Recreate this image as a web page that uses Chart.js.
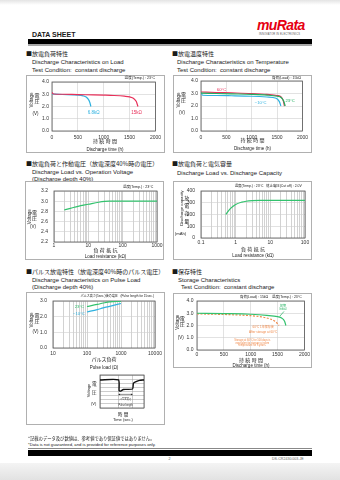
<!DOCTYPE html>
<html lang="ja">
<head>
<meta charset="utf-8">
<title>CR2430 Data Sheet</title>
<script src="https://cdn.jsdelivr.net/npm/chart.js@4.4.1/dist/chart.umd.min.js"></script>
<style>
  html, body { margin: 0; padding: 0; }
  body { width: 340px; height: 480px; position: relative; overflow: hidden; background: #fff;
         font-family: "Liberation Sans", Arial, "Noto Sans CJK JP", sans-serif; color: #1a1a1a; }
  .txt { position: absolute; white-space: nowrap; line-height: 1; }
  .sec { font-size: 6px; font-family: "Noto Sans CJK JP", sans-serif; }
  .sub { font-size: 6px; }
  .bar { position: absolute; }
  canvas { position: absolute; }
</style>
</head>
<body>
<div class="bar" style="left:0;top:0;width:340px;height:5px;background:linear-gradient(#e4e4e4,#fff)"></div>
<div class="txt" style="left:32px;top:30.5px;font-size:7px;font-weight:bold">DATA SHEET</div>
<div class="txt" style="left:257px;top:18px;font-size:14px;font-weight:bold;font-style:italic;color:#e60012;letter-spacing:-0.6px">muRata</div>
<div class="txt" style="left:259px;top:34px;font-size:2.6px;color:#555;letter-spacing:0.15px">INNOVATOR IN ELECTRONICS</div>
<div class="bar" style="left:28px;top:39px;width:284px;height:5px;background:#000"></div>
<div class="bar" style="left:28px;top:44px;width:284px;height:2px;background:#a8a8a8"></div>

<div class="txt sec" style="left:26px;top:51px">■放電負荷特性</div>
<div class="txt sub" style="left:32px;top:59px">Discharge Characteristics on Load</div>
<div class="txt sub" style="left:32px;top:67px">Test Condition:&nbsp; constant discharge</div>
<div class="txt sec" style="left:172px;top:51px">■放電温度特性</div>
<div class="txt sub" style="left:177px;top:59px">Discharge Characteristics on Temperature</div>
<div class="txt sub" style="left:177px;top:67px">Test Condition:&nbsp; constant discharge</div>

<div class="txt sec" style="left:26px;top:161px">■放電負荷と作動電圧（放電深度40%時の電圧）</div>
<div class="txt sub" style="left:32px;top:169px">Discharge Load vs. Operation Voltage</div>
<div class="txt sub" style="left:32px;top:175.5px">(Discharge depth 40%)</div>
<div class="txt sec" style="left:172px;top:161px">■放電負荷と電気容量</div>
<div class="txt sub" style="left:177px;top:170px">Discharge Load vs. Discharge Capacity</div>

<div class="txt sec" style="left:26px;top:269px">■パルス放電特性（放電深度40%時のパルス電圧）</div>
<div class="txt sub" style="left:32px;top:277px">Discharge Characteristics on Pulse Load</div>
<div class="txt sub" style="left:32px;top:283.5px">(Discharge depth 40%)</div>
<div class="txt sec" style="left:172px;top:269px">■保存特性</div>
<div class="txt sub" style="left:178px;top:277px">Storage Characteristics</div>
<div class="txt sub" style="left:181px;top:283.5px">Test Condition:&nbsp; constant discharge</div>

<canvas id="loadChart" width="139" height="78" style="left:26px;top:75px"></canvas>
<canvas id="tempChart" width="139" height="78" style="left:173px;top:75px"></canvas>
<canvas id="opVoltChart" width="139" height="79" style="left:25px;top:181px"></canvas>
<canvas id="capChart" width="139" height="79" style="left:173px;top:181px"></canvas>
<canvas id="pulseChart" width="139" height="133" style="left:26px;top:292px"></canvas>
<canvas id="pulseShape" width="70" height="52" style="left:86px;top:372px"></canvas>
<canvas id="storageChart" width="139" height="75" style="left:173px;top:293px"></canvas>

<div class="txt" style="left:28px;top:436px;font-size:4.3px;font-family:'Noto Sans CJK JP',sans-serif">*記載のデータ及び数値は、参考値であり保証値ではありません。</div>
<div class="txt" style="left:28px;top:442.5px;font-size:4.2px">*Data is not guaranteed, and is provided for reference purposes only.</div>
<div class="bar" style="left:28px;top:447.5px;width:284px;height:0.6px;background:#888"></div>
<div class="bar" style="left:28px;top:450px;width:284px;height:5.5px;background:#000"></div>
<div class="txt" style="left:168.5px;top:457.5px;font-size:3.6px;color:#555">2</div>
<div class="txt" style="left:272px;top:457.5px;font-size:3.6px;color:#666">DS-CR2430.003-JE</div>
<div class="bar" style="left:0;top:463px;width:340px;height:17px;background:linear-gradient(#f4f4f4,#e2e2e2)"></div>

<script>
// --- discharge on load (23°C) ---
const loadHours15k = [0, 30, 200, 500, 800, 1000, 1200, 1400, 1500, 1580, 1630, 1662];
const loadVolts15k = [3.15, 3.02, 3.0, 2.97, 2.95, 2.93, 2.9, 2.84, 2.78, 2.65, 2.4, 2.0];
const loadHours6k8 = [0, 200, 400, 500, 600, 660, 700, 730, 752];
const loadVolts6k8 = [3.02, 2.98, 2.95, 2.93, 2.87, 2.78, 2.6, 2.35, 2.0];

// --- discharge on temperature (15kΩ) ---
const tempHours60 = [0, 300, 600, 1000, 1300, 1500, 1580, 1620, 1645];
const tempVolts60 = [3.12, 3.08, 3.05, 3.0, 2.93, 2.84, 2.72, 2.45, 2.0];
const tempHours23 = [0, 300, 600, 1000, 1300, 1500, 1580, 1630, 1660];
const tempVolts23 = [3.03, 3.0, 2.97, 2.93, 2.87, 2.78, 2.68, 2.4, 2.0];
const tempHoursM10 = [0, 30, 300, 600, 1000, 1300, 1480, 1545, 1575];
const tempVoltsM10 = [3.1, 2.86, 2.84, 2.82, 2.78, 2.72, 2.62, 2.35, 2.0];

// --- load vs operating voltage ---
const opLoadKohm = [2, 3, 5, 10, 20, 40, 100, 1000];
const opVolts = [2.83, 2.86, 2.9, 2.94, 2.98, 3.0, 3.0, 3.0];
const opLoadTicks = [1, 10, 100, 1000];

// --- load vs capacity ---
const capLoadKohm = [0.52, 0.7, 1, 1.5, 2, 3, 5, 10, 100];
const capMah = [200, 250, 285, 305, 313, 318, 320, 320, 320];
const capLoadTicks = [0.1, 1, 10, 100];

// --- pulse load ---
const pulseLoadOhm = [100, 200, 300, 465, 1000];
const pulseVolts23 = [2.65, 2.78, 2.87, 2.95, 2.98];
const pulseVoltsM10 = [2.3, 2.45, 2.56, 2.66, 2.84];
const pulseLoadTicks = [10, 100, 1000, 10000];

// --- pulse shape sketch ---
const pulseSeqSec = [0, 4.2, 4.35, 4.7, 5.3, 7.4, 7.6, 8.2, 9, 10];
const pulseSeqLevel = [6.8, 6.8, 4.2, 4.1, 4.5, 4.6, 6.0, 6.4, 6.7, 6.8];
const pulseEdgeTicks = [0, 4.2, 7.4, 10];

// --- storage ---
const storeHoursInit = [0, 500, 1000, 1300, 1500, 1580, 1630, 1655];
const storeVoltsInit = [3.0, 2.97, 2.92, 2.83, 2.72, 2.6, 2.35, 2.0];
const storeHoursAged = [0, 500, 1000, 1200, 1350, 1450, 1500, 1525];
const storeVoltsAged = [2.95, 2.9, 2.8, 2.7, 2.55, 2.35, 2.15, 2.0];

const RED = '#e8305a', CYAN = '#2fb2e0', GREEN = '#22b060', LIGHT_GREEN = '#33c26e', ORANGE = '#f08a4b';
const FONT_LATIN = '"Liberation Sans", Arial, sans-serif';
const FONT_JP = '"Liberation Sans", "Noto Sans CJK JP", sans-serif';

Chart.defaults.font.family = FONT_LATIN;

const pts = (xs, ys) => xs.map((x, i) => ({ x: x, y: ys[i] }));

// grey frame round the whole canvas, dark frame round the plot
function framePlugin(outer) {
  return {
    id: 'frames',
    beforeDatasetsDraw(chart) {
      const a = chart.chartArea, ctx = chart.ctx;
      ctx.save();
      if (outer) {
        ctx.strokeStyle = '#b0b0b0';
        ctx.lineWidth = 1;
        ctx.strokeRect(0.5, 0.5, chart.width - 1, chart.height - 1);
      }
      ctx.strokeStyle = '#555';
      ctx.lineWidth = 0.8;
      ctx.strokeRect(a.left, a.top, a.right - a.left, a.bottom - a.top);
      ctx.restore();
    }
  };
}

// free text, leader lines and arrows; "at" is in data units, x/y in canvas pixels
function textPlugin(items) {
  return {
    id: 'sheetText',
    afterDraw(chart) {
      const ctx = chart.ctx;
      const xs = chart.scales.x, ys = chart.scales.y;
      const px = p => [xs.getPixelForValue(p[0]), ys.getPixelForValue(p[1])];
      items.forEach(it => {
        ctx.save();
        ctx.fillStyle = it.color || '#222';
        ctx.strokeStyle = it.color || '#222';
        ctx.lineWidth = it.width || 0.6;
        if (it.line) {
          const a = px(it.line[0]), b = px(it.line[1]);
          ctx.beginPath(); ctx.moveTo(a[0], a[1]); ctx.lineTo(b[0], b[1]); ctx.stroke();
        } else if (it.arrow) {
          const a = px([it.arrow[0], it.y]), b = px([it.arrow[1], it.y]);
          ctx.beginPath(); ctx.moveTo(a[0], a[1]); ctx.lineTo(b[0], b[1]); ctx.stroke();
          [[a, 1], [b, -1]].forEach(([p, d]) => {
            ctx.beginPath(); ctx.moveTo(p[0], p[1]);
            ctx.lineTo(p[0] + 1.6 * d, p[1] - 0.9); ctx.lineTo(p[0] + 1.6 * d, p[1] + 0.9);
            ctx.closePath(); ctx.fill();
          });
        } else {
          const pos = it.at ? px(it.at) : [it.x, it.y];
          ctx.font = (it.size || 5) + 'px ' + (it.jp ? FONT_JP : FONT_LATIN);
          ctx.textAlign = it.align || 'center';
          ctx.textBaseline = 'middle';
          ctx.translate(pos[0], pos[1]);
          if (it.rotate) ctx.rotate(it.rotate * Math.PI / 180);
          if (it.stack) {
            Array.from(it.text).forEach((ch, i) => ctx.fillText(ch, 0, i * it.stack));
          } else {
            ctx.fillText(it.text, 0, 0);
          }
        }
        ctx.restore();
      });
    }
  };
}

function linAxis(min, max, step, decimals, size, isX, pad) {
  return {
    type: 'linear', min: min, max: max,
    ticks: {
      stepSize: step, autoSkip: false, maxRotation: 0, padding: pad, color: '#333',
      font: { size: 5 }, callback: v => v.toFixed(decimals)
    },
    grid: { color: '#cfcfcf', lineWidth: 0.6, drawTicks: false },
    border: { display: false },
    afterFit: s => { if (isX) s.height = size; else s.width = size; }
  };
}

function logAxis(labels, size, pad) {
  return {
    type: 'logarithmic', min: labels[0], max: labels[labels.length - 1],
    afterBuildTicks: s => {
      const t = [];
      labels.forEach((d, i) => {
        if (i < labels.length - 1) for (let k = 1; k < 10; k++) t.push({ value: d * k });
        else t.push({ value: d });
      });
      s.ticks = t;
    },
    ticks: {
      autoSkip: false, maxRotation: 0, padding: pad, color: '#333', font: { size: 5 },
      callback: v => labels.includes(v) ? String(v) : ''
    },
    grid: { color: '#a4a4a4', lineWidth: 0.5, drawTicks: false },
    border: { display: false },
    afterFit: s => { s.height = size; }
  };
}

function line(data, color, dash) {
  return {
    data: data, borderColor: color, borderWidth: 1.2, borderDash: dash || [],
    pointRadius: 0, fill: false, cubicInterpolationMode: 'monotone'
  };
}

function sheetChart(id, cfg) {
  const ctx = document.getElementById(id).getContext('2d');
  return new Chart(ctx, {
    type: 'line',
    data: { datasets: cfg.datasets },
    options: {
      responsive: false,
      animation: false,
      devicePixelRatio: 1,
      layout: { padding: cfg.pad },
      plugins: { legend: { display: false }, tooltip: { enabled: false } },
      scales: { x: cfg.x, y: cfg.y }
    },
    plugins: [framePlugin(cfg.outer !== false), textPlugin(cfg.items)]
  });
}

function voltTitle(xr, xj, yv, yj, step, yu) {
  return [
    { text: 'Voltage', x: xr, y: yv, rotate: -90, size: 4.5 },
    { text: '電圧', x: xj, y: yj, stack: step, size: 5, jp: true },
    { text: '(V)', x: xj - 1.5, y: yu, size: 4.5 }
  ];
}

sheetChart('loadChart', {
  pad: { left: 0, top: 7, right: 8, bottom: 0 },
  datasets: [line(pts(loadHours15k, loadVolts15k), RED), line(pts(loadHours6k8, loadVolts6k8), CYAN)],
  x: linAxis(0, 2000, 500, 0, 22, true, 4),
  y: linAxis(0, 4, 1, 1, 26, false, 3),
  items: [
    { text: '温度(Temp.) : 23°C', x: 129, y: 3, size: 3.6, align: 'right', jp: true },
    ...voltTitle(6, 11, 25, 20.5, 6.5, 38.5),
    { text: '持 続 時 間', x: 79, y: 67, size: 5, jp: true },
    { text: 'Discharge time (h)', x: 79, y: 74.3, size: 4.5 },
    { text: '6.8kΩ', at: [806, 1.52], color: CYAN, size: 4.5 },
    { text: '15kΩ', at: [1633, 1.52], color: RED, size: 4.5 }
  ]
});

sheetChart('tempChart', {
  pad: { left: 0, top: 6, right: 8, bottom: 0 },
  datasets: [
    line(pts(tempHours23, tempVolts23), GREEN),
    line(pts(tempHours60, tempVolts60), RED),
    line(pts(tempHoursM10, tempVoltsM10), CYAN)
  ],
  x: linAxis(0, 2000, 500, 0, 22, true, 4),
  y: linAxis(0, 4, 1, 1, 28, false, 3),
  items: [
    { text: '負荷(Load) : 15kΩ', x: 128, y: 2.8, size: 3.6, align: 'right', jp: true },
    ...voltTitle(5.5, 10.5, 25, 19.5, 6.5, 37.5),
    { text: '持 続 時 間', x: 79.5, y: 66, size: 5, jp: true },
    { text: 'Discharge time (h)', x: 79.5, y: 73.3, size: 4.5 },
    { text: '60°C', at: [405, 3.28], color: RED, size: 4.2 },
    { text: '−10°C', at: [1178, 2.25], color: CYAN, size: 4.2 },
    { text: '23°C', at: [1757, 2.39], color: GREEN, size: 4.2 }
  ]
});

sheetChart('opVoltChart', {
  pad: { left: 0, top: 10, right: 7, bottom: 0 },
  datasets: [line(pts(opLoadKohm, opVolts), LIGHT_GREEN)],
  x: logAxis(opLoadTicks, 18, 1),
  y: linAxis(2.2, 3.2, 0.2, 1, 29, false, 6),
  items: [
    { text: '温度(Temp.) : 23°C', x: 128.3, y: 5.7, size: 3.6, align: 'right', jp: true },
    ...voltTitle(4.5, 9.5, 35.7, 31.7, 5.5, 45.7),
    { text: '負 荷 抵 抗', x: 80.5, y: 69.5, size: 5, jp: true },
    { text: 'Load resistance (kΩ)', x: 80.5, y: 75.5, size: 4.5 }
  ]
});

sheetChart('capChart', {
  pad: { left: 0, top: 10, right: 7, bottom: 0 },
  datasets: [line(pts(capLoadKohm, capMah), LIGHT_GREEN)],
  x: logAxis(capLoadTicks, 22, 2),
  y: linAxis(0, 400, 100, 0, 28, false, 6),
  items: [
    { text: '温度(Temp.) : 23°C   終止電圧(Cut off) : 2.0V', x: 128.7, y: 5, size: 3.4, align: 'right', jp: true },
    { text: 'Discharge capacity', x: 8.5, y: 27, rotate: -90, size: 4.2 },
    { text: '放電容量', x: 13.7, y: 17.5, stack: 7.6, size: 5, jp: true },
    { text: '(mAh)', x: 7.5, y: 53.3, size: 4.2 },
    { text: '負 荷 抵 抗', x: 80, y: 68.3, size: 5, jp: true },
    { text: 'Load resistance (kΩ)', x: 80, y: 75, size: 4.5 }
  ]
});

sheetChart('pulseChart', {
  pad: { left: 0, top: 7, right: 10, bottom: 0 },
  datasets: [line(pts(pulseLoadOhm, pulseVolts23), LIGHT_GREEN), line(pts(pulseLoadOhm, pulseVoltsM10), CYAN)],
  x: logAxis(pulseLoadTicks, 77, 3),
  y: linAxis(0, 3, 1, 1, 27, false, 6),
  items: [
    { text: 'パルス高さ(5sec.)後の電圧   (Pulse length for 15sec.)', x: 128, y: 4, size: 3.1, align: 'right', jp: true },
    ...voltTitle(6, 11, 28, 23.5, 6.5, 40),
    { text: '23°C', at: [60, 2.65], color: LIGHT_GREEN, size: 4.2 },
    { text: '−10°C', at: [58, 2.15], color: CYAN, size: 4.2 },
    { text: 'パルス負荷', x: 78, y: 68, size: 5, jp: true },
    { text: 'Pulse load (Ω)', x: 78, y: 75.3, size: 4.5 }
  ]
});

sheetChart('pulseShape', {
  outer: false,
  pad: { left: 0, top: 3, right: 12, bottom: 0 },
  datasets: [Object.assign(line(pts(pulseSeqSec, pulseSeqLevel), '#111'),
    { borderWidth: 1.4, cubicInterpolationMode: 'default', tension: 0.2 })],
  x: {
    type: 'linear', min: 0, max: 10,
    afterBuildTicks: s => { s.ticks = pulseEdgeTicks.map(v => ({ value: v })); },
    ticks: { display: false },
    grid: { color: '#9a9a9a', lineWidth: 0.5, drawTicks: false },
    border: { display: false },
    afterFit: s => { s.height = 16; }
  },
  y: {
    type: 'linear', min: 0, max: 8,
    ticks: { display: false, stepSize: 1 },
    grid: { color: '#9a9a9a', lineWidth: 0.5, drawTicks: false },
    border: { display: false },
    afterFit: s => { s.width = 14; }
  },
  items: [
    { text: 'Voltage', x: 3.3, y: 18.5, rotate: -90, size: 4 },
    { text: '電圧', x: 8.3, y: 11.3, stack: 9, size: 4.6, jp: true },
    { text: '(V)', x: 7.7, y: 32, size: 4 },
    { arrow: [4.2, 7.4], y: 3.3, color: '#222', width: 0.5 },
    { text: '15sec.', at: [5.8, 2.6], size: 2.4 },
    { text: 'パルス長さ', at: [5.8, 2.0], size: 2.4, jp: true },
    { text: 'Pulse length', at: [5.8, 0.6], size: 2.6 },
    { text: '時 間', x: 37, y: 42.3, size: 4.6, jp: true },
    { text: 'Time (sec.)', x: 37, y: 48, size: 4 }
  ]
});

sheetChart('storageChart', {
  pad: { left: 0, top: 8, right: 7, bottom: 0 },
  datasets: [line(pts(storeHoursInit, storeVoltsInit), LIGHT_GREEN), line(pts(storeHoursAged, storeVoltsAged), ORANGE, [2, 1.5])],
  x: linAxis(0, 2000, 500, 0, 18, true, 2),
  y: linAxis(0, 4, 1, 1, 24, false, 3.5),
  items: [
    { text: '負荷(Load) : 15kΩ    温度(Temp.) : 23°C', x: 128.7, y: 4.3, size: 3.5, align: 'right', jp: true },
    ...voltTitle(4.3, 9.3, 29.3, 25.7, 5.6, 44.3),
    { text: '持 続 時 間', x: 78, y: 67.3, size: 5, jp: true },
    { text: 'Discharge time (h)', x: 78, y: 72.5, size: 4.5 },
    { text: '初期', at: [1600, 3.55], color: GREEN, size: 3, jp: true },
    { text: 'Initial', at: [1600, 3.3], color: GREEN, size: 3 },
    { line: [[1620, 3.15], [1540, 2.75]], color: GREEN, width: 0.7 },
    { text: '60°C 1年保存後', at: [1230, 1.83], color: ORANGE, size: 3, jp: true },
    { text: 'After storage at 60°C', at: [1230, 1.43], color: ORANGE, size: 3 },
    { text: 'Storage at 60°C for 100 days is', at: [1030, 0.78], color: ORANGE, size: 2.6 },
    { text: 'equivalent to storage at room', at: [1030, 0.57], color: ORANGE, size: 2.6 },
    { text: 'temperature for 5 years.', at: [1030, 0.36], color: ORANGE, size: 2.6 }
  ]
});
</script>
</body>
</html>
